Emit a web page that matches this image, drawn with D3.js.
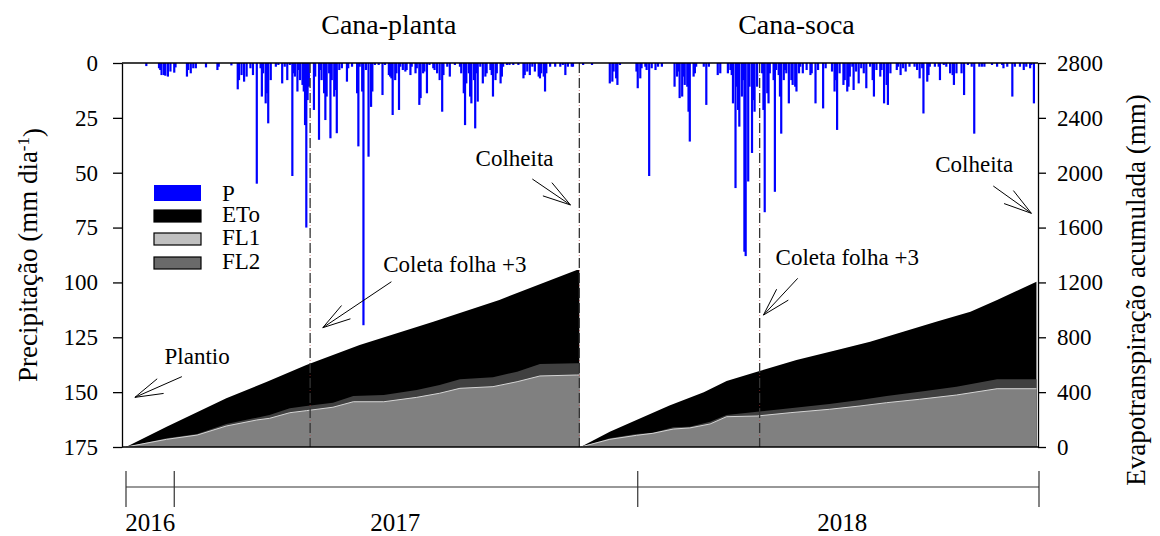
<!DOCTYPE html>
<html>
<head>
<meta charset="utf-8">
<script src="https://cdn.jsdelivr.net/npm/d3@7"></script>
<style>
  body { margin: 0; background: #fff; }
  text { font-family: "Liberation Serif", "Times New Roman", serif; fill: #000; }
</style>
</head>
<body>
<svg id="chart" width="1160" height="536"></svg>
<script>
// ---- data (day = days after planting, 2016-11-24) ----
const plantingDate = "2016-11-24";
const lastDate = "2018-11-13";
const cycleTitles = ["Cana-planta", "Cana-soca"];
const cycleTitleDays = [207, 528];
const harvestDays = [357];
const leafSampleDays = [145, 499];
const yearTickDates = ["2016-11-24", "2017-01-01", "2018-01-01", "2018-11-13"];
const yearLabels = ["2016", "2017", "2018"];
const yearLabelDates = ["2016-12-13", "2017-06-24", "2018-06-11"];
const precipTicks = [0, 25, 50, 75, 100, 125, 150, 175];
const etTicks = [0, 400, 800, 1200, 1600, 2000, 2400, 2800];

// daily rainfall (mm)
const rainDays = [16,26,27,28,30,31,33,35,38,39,48,49,51,53,55,63,72,73,83,88,89,91,93,95,98,100,103,106,107,108,110,111,112,114,118,120,123,125,127,129,131,132,133,135,136,137,139,140,141,142,143,144,148,149,152,153,154,156,157,158,160,161,162,164,165,166,168,170,174,175,178,182,183,184,186,187,189,191,193,194,196,199,202,204,207,208,209,210,212,213,215,216,218,220,221,224,225,228,229,231,232,234,235,237,239,242,243,245,247,249,250,253,255,259,263,264,266,267,268,270,271,272,274,275,276,277,279,281,283,284,287,288,289,291,292,295,296,297,300,302,305,309,313,314,316,318,320,322,325,326,327,329,330,331,334,338,342,344,346,348,351,352,
  360,367,381,383,384,386,387,389,402,403,405,406,409,410,412,414,417,419,422,432,434,435,436,438,439,440,442,443,444,447,448,449,455,457,459,466,468,474,476,477,478,480,481,482,483,485,486,487,488,490,491,493,494,495,497,501,502,503,505,506,507,510,511,512,514,515,516,518,519,520,522,524,525,527,528,530,531,533,536,539,540,543,545,549,551,556,558,559,560,562,565,566,568,569,570,572,573,575,577,579,581,583,586,588,589,591,594,595,597,599,600,602,607,608,610,612,614,617,621,623,625,627,628,631,632,633,637,640,641,644,646,649,651,652,654,658,660,663,666,668,672,674,676,682,686,690,691,694,698,700,704,707,709,712,713,715];
const rainMm = [1.4,2.4,3.2,5.5,5.5,5.8,6.2,3.9,4.4,2.0,6.2,3.2,4.7,2.4,2.4,2.0,3.2,1.7,1.1,12,7.8,5.5,8.5,6.2,2.4,5.5,55,2.4,15.3,4.7,18.4,13.8,27.5,7.8,1.7,0.9,9.3,1.7,7.8,0.9,51.5,4.7,6.2,13,3.2,7.8,10,13,28.3,75,16.9,10.8,21.4,6.2,35,3.2,7.8,13.8,26,15.3,4.7,34.3,7.8,15.3,12.3,32,3.2,2.4,8.5,2.4,1.7,13.8,38,1.7,13,119.5,3.2,42.7,20,13,0.9,0.9,14.6,0.9,5.5,6.2,7,23.7,7.8,4.7,21.4,1.7,3.2,3.9,3.2,5.5,1.7,4.7,2.4,19.1,16,4.7,3.9,13.8,0.9,2.4,3.2,4.7,7.8,22.2,5.5,1.7,6.2,0.9,1.7,4.7,13.8,28.3,9.3,4.7,15.3,18.4,7.8,29.8,4.7,17.6,1.7,9.3,6.2,4.7,3.2,5.5,15.3,7.8,4.7,9.3,6.2,1.7,0.9,0.9,0.9,0.9,7,5.5,3.9,5.5,1.7,3.9,6.2,7,4.7,6.2,13,4.7,1.7,1.7,1.7,0.9,5.5,1.7,1.7,1.7,
  0.9,0.9,9.3,8.5,3.9,7,10,0.9,3.9,11.5,7,2.4,1.7,3.2,51.5,2.4,3.2,1.7,1.7,10.8,6.2,3.9,16,15.3,6.2,10,10.8,22.2,35.8,6.2,4.7,1.7,1.7,19.1,1.7,5.5,4.7,4.7,3.2,5.5,18.4,57,10.8,21.4,29,15.3,7.8,86,88,54,10.8,41,16.9,22.2,10.8,4.7,21.4,68,13.8,18.4,4.7,7.8,58.7,3.2,5.5,15.3,32.2,7.8,3.2,4.7,18.4,7.8,10,10.8,13,4.7,1.7,4.7,3.2,5.5,4.7,18.4,3.2,20.7,2.4,3.9,13,7.8,30.5,4.7,10,7.8,13,10.8,6.2,1.7,12.3,3.9,9.3,2.4,4.7,11.5,1.7,7.8,15.3,3.2,6.2,3.2,18.4,10,19.1,4.7,3.2,1.7,5.5,2.4,3.9,1.7,1.7,3.2,7,2.4,23,8.5,5.5,1.7,1.7,1.7,7.8,0.9,1.7,4.7,5.5,10,4.7,4.7,14.6,0.9,1.7,32.2,1.7,1.7,1.7,0.9,1.7,0.9,2.4,1.7,15.3,1.7,1.7,3.2,1.7,2.4,0.9,18.4];

// cumulative evapotranspiration (mm), plant cane cycle
const etoDays1 = [0, 32, 79, 111, 142, 184, 242, 294, 355, 357];
const etoMm1   = [0, 148, 355, 476, 598, 744, 914, 1072, 1291, 1291];
const flDays1  = [0, 32, 56, 79, 103, 113, 129, 142, 163, 179, 203, 229, 247, 263, 289, 308, 326, 355, 357];
const fl2Mm1   = [0, 63, 95, 168, 214, 233, 282, 299, 323, 372, 379, 416, 452, 494, 508, 549, 605, 610, 610];
const fl1Mm1   = [0, 56, 87, 153, 197, 209, 250, 265, 290, 330, 330, 362, 392, 428, 440, 476, 518, 525, 525];

// cumulative evapotranspiration (mm), ratoon cycle
const etoDays2 = [358, 381, 402, 428, 455, 473, 497, 528, 560, 586, 612, 638, 665, 686, 717];
const etoMm2   = [0, 112, 197, 302, 400, 482, 549, 634, 707, 768, 841, 914, 987, 1072, 1205];
const flDays2  = [358, 381, 402, 415, 431, 444, 460, 473, 497, 523, 554, 578, 599, 625, 654, 686, 717];
const fl2Mm2   = [0, 63, 95, 104, 144, 148, 184, 233, 257, 282, 314, 343, 372, 403, 440, 494, 494];
const fl1Mm2   = [0, 56, 85, 100, 131, 139, 168, 221, 226, 250, 275, 299, 323, 348, 379, 425, 425];

// annotations: text anchor and arrow tail/tip in (day, accumulated mm)
const notes = [
  { label: "Plantio",          text: [56, 603],   tail: [44, 513],   tip: [7, 362] },
  { label: "Coleta folha +3",  text: [259, 1274], tail: [209, 1205], tip: [155, 870] },
  { label: "Colheita",         text: [306, 2049], tail: [320, 1954], tip: [350, 1765] },
  { label: "Coleta folha +3",  text: [568, 1327], tail: [529, 1230], tip: [502, 962] },
  { label: "Colheita",         text: [668, 2005], tail: [683, 1903], tip: [713, 1704] }
];

const legendItems = [
  { name: "P",   fill: "#0000ff", stroke: "none", h: 16 },
  { name: "ETo", fill: "#000000", stroke: "#000", h: 12 },
  { name: "FL1", fill: "#c0c0c0", stroke: "#000", h: 12 },
  { name: "FL2", fill: "#6a6a6a", stroke: "#000", h: 12 }
];

// ---- layout ----
const svg = d3.select("#chart");
const plot = { left: 122, right: 1038, top: 63, bottom: 447 };
const parse = d3.utcParse("%Y-%m-%d");
const t0 = parse(plantingDate);
const dayDate = d => d3.utcDay.offset(t0, d);

const x = d3.scaleUtc().domain([t0, parse(lastDate)]).range([126, 1039]);
const yP = d3.scaleLinear().domain([0, 175]).range([plot.top, plot.bottom]);
const yE = d3.scaleLinear().domain([0, 2800]).range([plot.bottom, plot.top]);
const fontSize = 23;
const titleSize = 27;

// ---- cumulative areas ----
const area = d3.area().x(p => x(dayDate(p[0]))).y0(yE(0)).y1(p => yE(p[1]));
const line = d3.line().x(p => x(dayDate(p[0]))).y(p => yE(p[1]));
const zipPts = (days, vals) => days.map((d, i) => [d, vals[i]]);

const cycles = [
  { eto: zipPts(etoDays1, etoMm1), fl2: zipPts(flDays1, fl2Mm1), fl1: zipPts(flDays1, fl1Mm1) },
  { eto: zipPts(etoDays2, etoMm2), fl2: zipPts(flDays2, fl2Mm2), fl1: zipPts(flDays2, fl1Mm2) }
];
const gArea = svg.append("g");
cycles.forEach(c => {
  gArea.append("path").attr("d", area(c.eto)).attr("fill", "#000");
  gArea.append("path").attr("d", area(c.fl2)).attr("fill", "#404040");
  gArea.append("path").attr("d", area(c.fl1)).attr("fill", "#808080");
  gArea.append("path").attr("d", line(c.fl1)).attr("fill", "none")
    .attr("stroke", "#d4d4d4").attr("stroke-width", 1);
});

// ---- rainfall bars (hanging from the top) ----
const barW = 2.2;
svg.append("g").selectAll("rect")
  .data(rainDays.map((d, i) => ({ d, v: rainMm[i] })))
  .join("rect")
  .attr("x", r => x(dayDate(r.d)) - barW / 2)
  .attr("y", yP(0))
  .attr("width", barW)
  .attr("height", r => yP(r.v) - yP(0))
  .attr("fill", "#0000ff");

// ---- event markers ----
const gEvt = svg.append("g");
[...leafSampleDays, ...harvestDays].forEach(d => {
  const xx = x(dayDate(d));
  gEvt.append("line").attr("x1", xx).attr("x2", xx).attr("y1", plot.top).attr("y2", plot.bottom)
    .attr("stroke", "#333").attr("stroke-width", 1.3).attr("stroke-dasharray", "10,5");
  gEvt.append("line").attr("x1", xx).attr("x2", xx).attr("y1", plot.top).attr("y2", plot.bottom)
    .attr("stroke", "#c03030").attr("stroke-width", 1).attr("stroke-opacity", 0.6)
    .attr("stroke-dasharray", "1,14").attr("stroke-dashoffset", -12);
});

// ---- axes ----
const axL = d3.axisLeft(yP).tickValues(precipTicks).tickSize(9).tickSizeOuter(0).tickPadding(15)
  .tickFormat(d3.format("d"));
const axR = d3.axisRight(yE).tickValues(etTicks).tickSize(8).tickSizeOuter(0).tickPadding(11)
  .tickFormat(d3.format("d"));
const gL = svg.append("g").attr("transform", `translate(${plot.left},0)`).call(axL);
const gR = svg.append("g").attr("transform", `translate(${plot.right},0)`).call(axR);
[gL, gR].forEach(g => {
  g.select(".domain").attr("stroke", "#000").attr("stroke-width", 1.3);
  g.selectAll(".tick line").attr("stroke", "#000").attr("stroke-width", 1.3);
  g.selectAll(".tick text").attr("font-size", fontSize)
    .attr("font-family", "Liberation Serif, serif").attr("fill", "#000");
});
svg.append("line").attr("x1", plot.left).attr("x2", plot.right).attr("y1", plot.top).attr("y2", plot.top)
  .attr("stroke", "#000").attr("stroke-width", 1.3);
svg.append("line").attr("x1", plot.left).attr("x2", plot.right).attr("y1", plot.bottom).attr("y2", plot.bottom)
  .attr("stroke", "#000").attr("stroke-width", 1.3);

// axis titles
const lt = svg.append("text").attr("transform", "translate(37,255) rotate(-90)")
  .attr("text-anchor", "middle").attr("font-size", titleSize);
lt.append("tspan").text("Precipitação (mm dia");
lt.append("tspan").attr("dy", "-0.45em").attr("font-size", 17).text("-1");
lt.append("tspan").attr("dy", "0.45em").text(")");
svg.append("text").attr("transform", "translate(1145,290) rotate(-90)")
  .attr("text-anchor", "middle").attr("font-size", titleSize)
  .text("Evapotranspiração acumulada (mm)");

// cycle titles
cycleTitles.forEach((t, i) => {
  svg.append("text").attr("x", x(dayDate(cycleTitleDays[i]))).attr("y", 34)
    .attr("text-anchor", "middle").attr("font-size", 28).text(t);
});

// ---- year timeline ----
const tlY = 487;
const gT = svg.append("g");
gT.append("line").attr("x1", x(parse(yearTickDates[0]))).attr("x2", x(parse(yearTickDates[yearTickDates.length - 1])))
  .attr("y1", tlY).attr("y2", tlY).attr("stroke", "#333").attr("stroke-width", 1.2);
yearTickDates.forEach(s => {
  const xx = x(parse(s));
  gT.append("line").attr("x1", xx).attr("x2", xx).attr("y1", tlY - 16).attr("y2", tlY + 20)
    .attr("stroke", "#333").attr("stroke-width", 1.2);
});
yearLabels.forEach((l, i) => {
  gT.append("text").attr("x", x(parse(yearLabelDates[i]))).attr("y", 531)
    .attr("text-anchor", "middle").attr("font-size", 25).text(l);
});

// ---- annotations with open arrows ----
const gN = svg.append("g");
notes.forEach(n => {
  const tx = x(dayDate(n.text[0])), ty = yE(n.text[1]);
  gN.append("text").attr("x", tx).attr("y", ty).attr("text-anchor", "middle")
    .attr("font-size", fontSize).text(n.label);
  const ax = x(dayDate(n.tail[0])), ay = yE(n.tail[1]);
  const bx = x(dayDate(n.tip[0])), by = yE(n.tip[1]);
  const ang = Math.atan2(ay - by, ax - bx);
  const len = 29, spread = 16 * Math.PI / 180;
  gN.append("path").attr("d", d3.line()([[ax, ay], [bx, by]])).attr("stroke", "#000")
    .attr("fill", "none").attr("stroke-width", 1);
  [-1, 1].forEach(s => {
    const a = ang + s * spread;
    gN.append("path").attr("d", d3.line()([[bx, by], [bx + len * Math.cos(a), by + len * Math.sin(a)]]))
      .attr("stroke", "#000").attr("fill", "none").attr("stroke-width", 1);
  });
});

// ---- legend ----
const gLeg = svg.append("g").attr("transform", "translate(154,185)");
const legY = [0, 25, 48, 72];
legendItems.forEach((it, i) => {
  const top = legY[i];
  gLeg.append("rect").attr("x", 0).attr("y", top).attr("width", 47).attr("height", it.h)
    .attr("fill", it.fill).attr("stroke", it.stroke).attr("stroke-width", 1.2);
  gLeg.append("text").attr("x", 68).attr("y", top + it.h).attr("font-size", fontSize).text(it.name);
});
</script>
</body>
</html>
